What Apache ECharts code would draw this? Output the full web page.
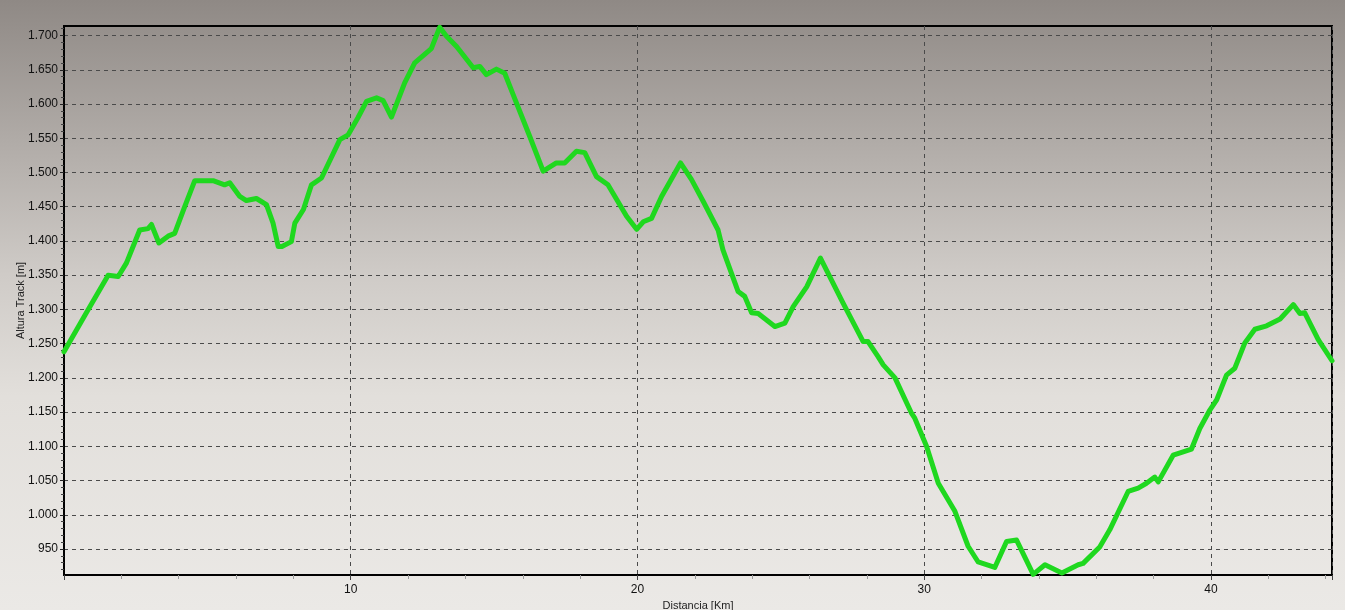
<!DOCTYPE html>
<html>
<head>
<meta charset="utf-8">
<script src="https://cdn.jsdelivr.net/npm/echarts@6/dist/echarts.min.js"></script>
<style>
html,body{margin:0;padding:0;width:1345px;height:610px;overflow:hidden;}
#chart{width:1345px;height:610px;}
</style>
</head>
<body>
<div id="chart"></div>
<script>
// Distance along the track (km)
var distKm = [0, 0.78, 1.54, 1.89, 2.18, 2.64, 2.93, 3.05, 3.31, 3.63, 3.86, 4.21, 4.56, 5.2, 5.6, 5.78, 6.13, 6.36, 6.71, 7.06, 7.29, 7.47, 7.6, 7.93, 8.05, 8.35, 8.63, 8.98, 9.62, 9.91, 10.25, 10.55, 10.9, 11.13, 11.42, 11.88, 12.23, 12.81, 13.1, 13.34, 13.69, 14.27, 14.5, 14.73, 15.08, 15.37, 15.66, 16.24, 16.71, 17.17, 17.46, 17.87, 18.16, 18.57, 18.97, 19.62, 19.97, 20.2, 20.49, 20.84, 21.5, 21.88, 22.29, 22.81, 22.98, 23.51, 23.74, 23.98, 24.21, 24.79, 25.14, 25.43, 25.9, 26.38, 27.17, 27.87, 28.04, 28.39, 28.57, 28.98, 29.56, 29.67, 30.08, 30.49, 31.07, 31.53, 31.88, 32.46, 32.87, 33.22, 33.8, 34.21, 34.8, 35.37, 35.54, 36.12, 36.47, 37.11, 37.46, 37.75, 38.04, 38.16, 38.68, 39.03, 39.32, 39.61, 39.96, 40.2, 40.54, 40.83, 41.18, 41.53, 41.94, 42.41, 42.87, 43.1, 43.27, 43.74, 44.22];
// Altitude (m)
var altM = [1238, 1295, 1350, 1348, 1368, 1416, 1418, 1424, 1397, 1407, 1411, 1450, 1488, 1488, 1482, 1485, 1465, 1459, 1462, 1453, 1426, 1392, 1392, 1399, 1426, 1446, 1482, 1492, 1548, 1555, 1580, 1604, 1609, 1605, 1581, 1631, 1660, 1681, 1712, 1699, 1684, 1653, 1655, 1643, 1651, 1645, 1614, 1553, 1502, 1514, 1514, 1531, 1529, 1494, 1482, 1436, 1417, 1428, 1433, 1465, 1514, 1490, 1458, 1416, 1387, 1326, 1319, 1295, 1294, 1275, 1280, 1304, 1333, 1375, 1309, 1253, 1253, 1231, 1219, 1200, 1148, 1141, 1100, 1046, 1005, 954, 931, 923, 961, 963, 913, 927, 915, 927, 929, 953, 978, 1034, 1039, 1046, 1055, 1048, 1087, 1092, 1096, 1126, 1153, 1168, 1204, 1214, 1251, 1271, 1276, 1286, 1307, 1294, 1295, 1256, 1225];
// Tick labels
var yTicks = [950, 1000, 1050, 1100, 1150, 1200, 1250, 1300, 1350, 1400, 1450, 1500, 1550, 1600, 1650, 1700];
var xTicks = [10, 20, 30, 40];

var yMinor = [];
for (var v = 920; v <= 1710; v += 10) { if (v % 50 !== 0) yMinor.push(v); }

function fmtThousands(v) {
  var s = String(Math.round(v));
  if (s.length > 3) s = s.slice(0, s.length - 3) + '.' + s.slice(s.length - 3);
  return s;
}

var pts = distKm.map(function (d, i) { return [d, altM[i]]; });

var chart = echarts.init(document.getElementById('chart'), null, {renderer: 'canvas'});
var FONT = 'Liberation Sans, Arial, sans-serif';
chart.setOption({
  animation: false,
  backgroundColor: new echarts.graphic.LinearGradient(0, 0, 0, 1, [
    {offset: 0, color: '#8f8985'},
    {offset: 0.25, color: '#b3aeaa'},
    {offset: 0.45, color: '#cfcbc7'},
    {offset: 0.65, color: '#e2dfdb'},
    {offset: 1, color: '#ebe9e6'}
  ]),
  grid: {
    left: 64, right: 13, top: 26, bottom: 35,
    containLabel: false, outerBoundsMode: 'none',
    show: true, borderColor: '#000', borderWidth: 2, backgroundColor: 'transparent'
  },
  xAxis: {
    type: 'value', min: 0, max: 44.22, interval: 10,
    name: 'Distancia [Km]', nameLocation: 'middle', nameGap: 22,
    nameTextStyle: {color: '#222', fontSize: 11, fontFamily: FONT},
    axisLine: {show: true, lineStyle: {color: '#000', width: 2}},
    axisTick: {show: true, length: 5, lineStyle: {color: '#444'}},
    minorTick: {show: true, splitNumber: 5, length: 4, lineStyle: {color: '#999'}},
    axisLabel: {
      color: '#111', fontSize: 12, fontFamily: FONT, margin: 9,
      showMaxLabel: false,
      formatter: function (v) { return xTicks.indexOf(v) >= 0 ? String(v) : ''; }
    },
    splitLine: {show: true, lineStyle: {color: '#4a4a4a', type: [4, 4], width: 1}}
  },
  yAxis: [{
    type: 'value', min: 912, max: 1714,
    name: 'Altura Track [m]', nameLocation: 'middle', nameGap: 38, nameRotate: 90,
    nameMoveOverlap: false,
    nameTextStyle: {color: '#222', fontSize: 11, fontFamily: FONT},
    axisLine: {show: true, lineStyle: {color: '#000', width: 2}},
    axisTick: {show: true, length: 4, customValues: yTicks, lineStyle: {color: '#222'}},
    axisLabel: {
      color: '#111', fontSize: 12, fontFamily: FONT, margin: 6,
      customValues: yTicks,
      formatter: function (v) { return fmtThousands(v); }
    },
    splitLine: {show: true, lineStyle: {color: '#4a4a4a', type: [4, 4], width: 1}}
  }, {
    type: 'value', min: 912, max: 1714, position: 'left',
    axisLine: {show: false},
    axisTick: {show: true, length: 3, customValues: yMinor, lineStyle: {color: '#444'}},
    axisLabel: {show: false},
    splitLine: {show: false}
  }],
  series: [{
    type: 'line',
    data: pts,
    showSymbol: false,
    symbol: 'none',
    smooth: false,
    lineStyle: {color: '#1fd81f', width: 5, join: 'round', cap: 'round'},
    z: 5
  }]
});
</script>
</body>
</html>
